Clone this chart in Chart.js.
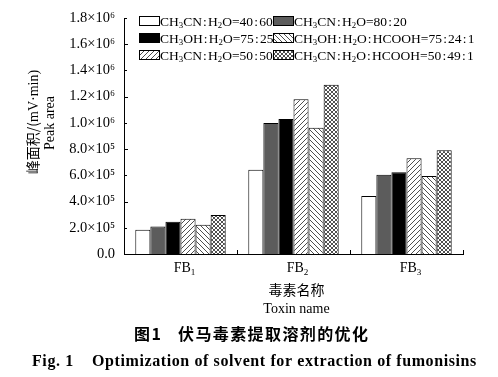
<!DOCTYPE html>
<html>
<head>
<meta charset="utf-8">
<script src="https://cdn.jsdelivr.net/npm/chart.js@4/dist/chart.umd.min.js"></script>
<style>
  html, body { margin: 0; padding: 0; background: #fff; }
  #wrap { width: 498px; height: 377px; }
</style>
</head>
<body>
<div id="wrap"><canvas id="c" width="498" height="377"></canvas></div>
<script>
// categories and series (peak area, mV·min)
const categories = ['FB1', 'FB2', 'FB3']
const seriesLabels = [
  'CH3CN:H2O=40:60',
  'CH3CN:H2O=80:20',
  'CH3OH:H2O=75:25',
  'CH3CN:H2O=50:50',
  'CH3OH:H2O:HCOOH=75:24:1',
  'CH3CN:H2O:HCOOH=50:49:1',
]
const acn4060 = [1.85e5, 6.42e5, 4.42e5]
const acn8020 = [2.10e5, 1.00e6, 6.04e5]
const meoh7525 = [2.46e5, 1.03e6, 6.24e5]
const acn5050 = [2.69e5, 1.18e6, 7.31e5]
const meohAcid = [2.23e5, 9.62e5, 5.94e5]
const acnAcid = [2.97e5, 1.29e6, 7.92e5]
const seriesValues = [acn4060, acn8020, meoh7525, acn5050, meohAcid, acnAcid]

const yTickLabels = ['0.0', '2.0×10⁵', '4.0×10⁵', '6.0×10⁵', '8.0×10⁵',
  '1.0×10⁶', '1.2×10⁶', '1.4×10⁶', '1.6×10⁶', '1.8×10⁶']

// legend is laid out 2 per row in this order
const legendOrder = [0, 1, 2, 4, 3, 5]

const SERIF = '"Liberation Serif", "Times New Roman", serif'
const CJK = '"Noto Sans CJK SC", sans-serif'

function makePattern(kind) {
  const size = kind === 'cross' ? 4 : 5
  const c = document.createElement('canvas')
  c.width = c.height = size
  const g = c.getContext('2d')
  g.fillStyle = '#fff'
  g.fillRect(0, 0, size, size)
  g.strokeStyle = '#222'
  g.lineWidth = 0.8
  const fwd = () => {
    g.beginPath()
    g.moveTo(-1, size + 1); g.lineTo(size + 1, -1)
    g.moveTo(-1, 1); g.lineTo(1, -1)
    g.moveTo(size - 1, size + 1); g.lineTo(size + 1, size - 1)
    g.stroke()
  }
  const back = () => {
    g.beginPath()
    g.moveTo(-1, -1); g.lineTo(size + 1, size + 1)
    g.moveTo(size - 1, -1); g.lineTo(size + 1, 1)
    g.moveTo(-1, size - 1); g.lineTo(1, size + 1)
    g.stroke()
  }
  if (kind === 'fwd' || kind === 'cross') fwd()
  if (kind === 'back' || kind === 'cross') back()
  return g.createPattern(c, 'repeat')
}

const fills = ['#ffffff', '#5c5c5c', '#000000', makePattern('fwd'), makePattern('back'), makePattern('cross')]

// split text: a digit right after a letter becomes a subscript,
// colons get a little air on each side like the printed ratio sign
function richParts(text) {
  const parts = []
  for (let i = 0; i < text.length; i++) {
    const ch = text[i]
    const sub = /[0-9]/.test(ch) && i > 0 && /[A-Za-z]/.test(text[i - 1])
    parts.push({ ch, sub, pad: ch === ':' ? 1.2 : 0 })
  }
  return parts
}

function richWidth(ctx, text, size) {
  let w = 0
  for (const p of richParts(text)) {
    ctx.font = `${p.sub ? size * 0.65 : size}px ${SERIF}`
    w += ctx.measureText(p.ch).width + p.pad * 2
  }
  return w
}

function drawRich(ctx, text, x, y, size, align) {
  let cx = align === 'center' ? x - richWidth(ctx, text, size) / 2 : x
  ctx.textAlign = 'left'
  ctx.textBaseline = 'alphabetic'
  for (const p of richParts(text)) {
    ctx.font = `${p.sub ? size * 0.65 : size}px ${SERIF}`
    cx += p.pad
    ctx.fillText(p.ch, cx, y + (p.sub ? size * 0.22 : 0))
    cx += ctx.measureText(p.ch).width + p.pad
  }
}

const decorations = {
  id: 'decorations',
  afterDraw(chart) {
    const { ctx, chartArea: area, scales } = chart
    const x = scales.x, y = scales.y
    ctx.save()
    ctx.fillStyle = '#000'
    ctx.strokeStyle = '#000'
    ctx.lineWidth = 1

    // inward tick marks on the y axis (major every 2e5, minor between)
    y.ticks.forEach((t, i) => {
      const py = Math.round(y.getPixelForValue(t.value)) + 0.5
      const len = i % 2 === 0 ? 4 : 3
      ctx.beginPath()
      ctx.moveTo(area.left, py)
      ctx.lineTo(area.left + len, py)
      ctx.stroke()
    })
    // x axis ticks at the category boundaries
    const step = (x.getPixelForValue(1) - x.getPixelForValue(0))
    for (let i = 0; i < categories.length; i++) {
      const px = Math.round(x.getPixelForValue(i) + step / 2) + 0.5
      ctx.beginPath()
      ctx.moveTo(px, area.bottom)
      ctx.lineTo(px, area.bottom - 4)
      ctx.stroke()
    }

    // category labels with subscripts
    categories.forEach((c, i) => {
      drawRich(ctx, c, x.getPixelForValue(i) + 4, area.bottom + 18, 14, 'center')
    })

    // legend, two columns inside the plot
    const colX = [area.left + 15, area.left + 149]
    const rowY = [21, 38, 55]
    legendOrder.forEach((di, k) => {
      const bx = colX[k % 2], by = rowY[Math.floor(k / 2)]
      ctx.fillStyle = fills[di]
      ctx.fillRect(bx, by - 5, 20, 10)
      ctx.strokeRect(bx + 0.5, by - 4.5, 20, 9)
      ctx.fillStyle = '#000'
      drawRich(ctx, seriesLabels[di], bx + 21, by + 4.5, 13.5, 'left')
    })

    // y axis title, two rotated lines
    ctx.save()
    ctx.translate(33, 122)
    ctx.rotate(-Math.PI / 2)
    ctx.textBaseline = 'middle'
    ctx.font = `14px ${CJK}`
    const w1 = ctx.measureText('峰面积/(').width
    ctx.font = `14px ${SERIF}`
    const w2 = ctx.measureText('mV·min)').width
    const sx = -(w1 + w2) / 2
    ctx.textAlign = 'left'
    ctx.font = `14px ${CJK}`
    ctx.fillText('峰面积/(', sx, 0)
    ctx.font = `14px ${SERIF}`
    ctx.fillText('mV·min)', sx + w1, 1)
    ctx.restore()

    ctx.save()
    ctx.translate(50, 123)
    ctx.rotate(-Math.PI / 2)
    ctx.textAlign = 'center'
    ctx.textBaseline = 'middle'
    ctx.font = `14px ${SERIF}`
    ctx.fillText('Peak area', 0, 0)
    ctx.restore()

    // x axis title
    const midX = (area.left + area.right) / 2
    ctx.textAlign = 'center'
    ctx.textBaseline = 'middle'
    ctx.font = `14px ${CJK}`
    ctx.fillText('毒素名称', midX + 3, 290)
    ctx.font = `14px ${SERIF}`
    ctx.fillText('Toxin name', midX + 3, 309)

    // figure captions
    ctx.textAlign = 'left'
    ctx.font = `bold 16px ${CJK}`
    ctx.letterSpacing = '1.4px'
    ctx.fillText('图1', 134, 334)
    ctx.fillText('伏马毒素提取溶剂的优化', 178, 334)
    ctx.font = `bold 16px ${SERIF}`
    ctx.letterSpacing = '0.6px'
    ctx.fillText('Fig. 1', 32, 362)
    ctx.fillText('Optimization of solvent for extraction of fumonisins', 92, 362)
    ctx.letterSpacing = '0px'
    ctx.restore()
  },
}

new Chart(document.getElementById('c'), {
  type: 'bar',
  data: {
    labels: categories,
    datasets: seriesValues.map((vals, i) => ({
      label: seriesLabels[i],
      data: vals,
      backgroundColor: fills[i],
      borderColor: '#000',
      borderWidth: 1,
      barPercentage: 1,
      categoryPercentage: 0.8,
    })),
  },
  options: {
    responsive: false,
    animation: false,
    devicePixelRatio: 1,
    layout: { padding: { left: 0, right: 35, top: 18, bottom: 0 } },
    plugins: {
      legend: { display: false },
      tooltip: { enabled: false },
    },
    scales: {
      x: {
        grid: { display: false },
        border: { display: true, color: '#000', width: 1 },
        ticks: { display: false },
        afterFit: (s) => { s.height = 123 },
      },
      y: {
        min: 0,
        max: 1.8e6,
        grid: { display: false },
        border: { display: true, color: '#000', width: 1 },
        ticks: {
          stepSize: 1e5,
          color: '#000',
          padding: 1,
          font: { family: SERIF, size: 14.5 },
          callback: (v, i) => (i % 2 === 0 ? yTickLabels[i / 2] : ''),
        },
        afterFit: (s) => { s.width = 124 },
      },
    },
  },
  plugins: [decorations],
})
</script>
</body>
</html>
